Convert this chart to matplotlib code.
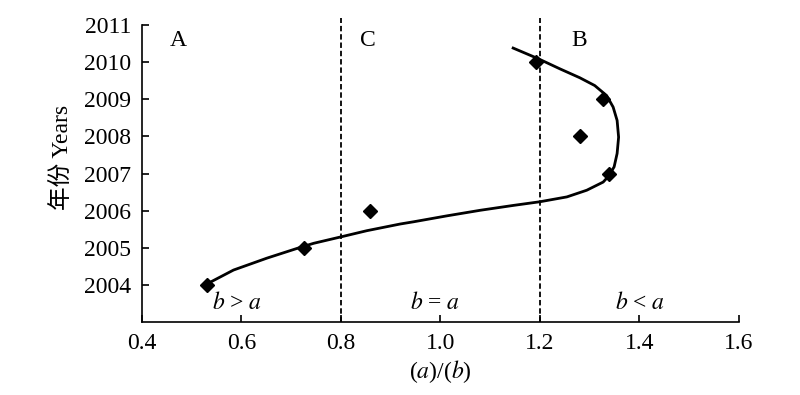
import matplotlib
matplotlib.use("Agg")
import matplotlib.pyplot as plt

plt.rcParams['font.family'] = ['Liberation Serif', 'Noto Sans CJK SC', 'DejaVu Sans']
plt.rcParams['mathtext.fontset'] = 'stix'

# observed points
years = [2004, 2005, 2006, 2007, 2008, 2009, 2010]
ratio = [0.531, 0.726, 0.858, 1.339, 1.280, 1.327, 1.191]

# trend curve
curve_x = [0.534, 0.584, 0.651, 0.718, 0.745, 0.802, 0.852, 0.919, 0.946, 1.013,
           1.080, 1.146, 1.200, 1.254, 1.294, 1.327, 1.338, 1.349, 1.355, 1.358,
           1.355, 1.347, 1.334, 1.310, 1.280, 1.240, 1.197, 1.146]
curve_y = [2004.05, 2004.40, 2004.72, 2005.01, 2005.12, 2005.30, 2005.46, 2005.64, 2005.70, 2005.86,
           2006.01, 2006.14, 2006.24, 2006.37, 2006.55, 2006.77, 2006.93, 2007.18, 2007.54, 2007.98,
           2008.43, 2008.79, 2009.10, 2009.37, 2009.58, 2009.82, 2010.09, 2010.38]

boundaries = [0.8, 1.2]
zone_names = ["A", "C", "B"]
zone_x = [0.472, 0.854, 1.278]
zone_rel = [r"$b$ > $a$", r"$b$ = $a$", r"$b$ < $a$"]
rel_x = [0.591, 0.989, 1.402]

fig = plt.figure(figsize=(8, 3.95), dpi=100)
ax = fig.add_axes([0.1775, 0.1848, 0.74625, 0.7706])

ax.plot(curve_x, curve_y, color='k', lw=2.0, solid_joinstyle='round')
ax.plot(ratio, years, linestyle='none', marker='D', ms=7, color='k')

for b in boundaries:
    ax.axvline(b, color='k', lw=1.3, linestyle=(0, (3, 1.6)))

for name, x in zip(zone_names, zone_x):
    ax.text(x, 2010.58, name, fontsize=17, ha='center', va='center')
for lab, x in zip(zone_rel, rel_x):
    ax.text(x, 2003.5, lab, fontsize=17, ha='center', va='center')

ax.set_xlim(0.4, 1.6)
ax.set_ylim(2003, 2011.2)
ax.set_xticks([0.4, 0.6, 0.8, 1.0, 1.2, 1.4, 1.6])
ax.set_xticklabels(["0.4", "0.6", "0.8", "1.0", "1.2", "1.4", "1.6"])
ax.set_yticks(range(2004, 2012))
ax.spines['top'].set_visible(False)
ax.spines['right'].set_visible(False)
ax.spines['left'].set_bounds(2003, 2011)
for s in ['left', 'bottom']:
    ax.spines[s].set_linewidth(1.2)
ax.tick_params(direction='in', length=5, width=1.2, labelsize=17, pad=8)

ax.set_xlabel(r"($a$)/($b$)", fontsize=17, labelpad=3)
ax.set_ylabel("年份 Years", fontsize=17)
ax.yaxis.set_label_coords(-0.116, 0.542)

fig.savefig("out.png", dpi=100)
